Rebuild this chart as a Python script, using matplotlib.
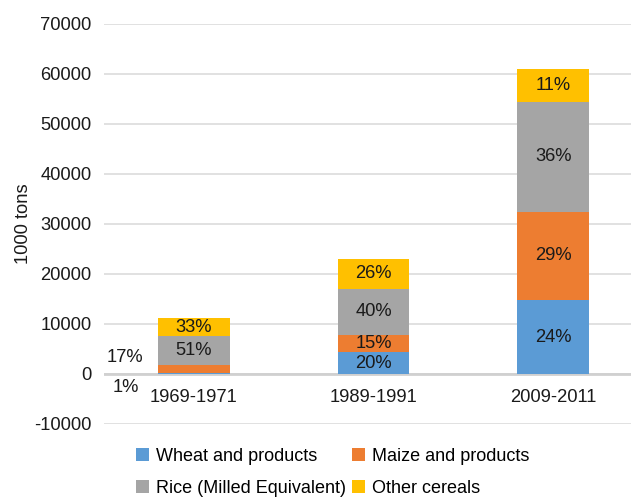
import numpy as np
import matplotlib.pyplot as plt
from matplotlib.patches import Patch

plt.rcParams['font.family'] = ['Liberation Sans', 'DejaVu Sans']

#%% Data (1000 tons)
periods = ["1969-1971", "1989-1991", "2009-2011"]
series = ["Wheat and products", "Maize and products", "Rice (Milled Equivalent)", "Other cereals"]
wheat = [110, 4340, 14740]
maize = [1600, 3400, 17720]
rice = [5800, 9320, 22000]
other = [3700, 5940, 6540]
shares = [["1%", "17%", "51%", "33%"],
          ["20%", "15%", "40%", "26%"],
          ["24%", "29%", "36%", "11%"]]
yticks = [-10000, 0, 10000, 20000, 30000, 40000, 50000, 60000, 70000]

colors = ["#5b9bd5", "#ed7d31", "#a5a5a5", "#ffc000"]
fs = 13.2

#%% Plot
fig = plt.figure(figsize=(6.31, 4.97), dpi=100)
ax = fig.add_axes([104/631, 73/497, 539/631, 400/497])

x = np.arange(len(periods))
bottom = np.zeros(len(periods))
stack = [wheat, maize, rice, other]
for k, vals in enumerate(stack):
    vals = np.array(vals, dtype=float)
    ax.bar(x, vals, 0.4, bottom=bottom, color=colors[k], zorder=3)
    for i in range(len(periods)):
        if i == 0 and k < 2:
            continue  # small segments labelled outside, left of bar
        ax.text(x[i], bottom[i] + vals[i] / 2, shares[i][k], ha="center", va="center",
                fontsize=fs, color="#1a1a1a", zorder=4)
    bottom += vals

# labels for thin segments of the first bar
ax.text(-0.385, 3260, shares[0][1], ha="center", va="center", fontsize=fs, color="#1a1a1a")
ax.text(-0.38, -2700, shares[0][0], ha="center", va="center", fontsize=fs, color="#1a1a1a")

# category labels
for i, p in enumerate(periods):
    ax.text(x[i], -4600, p, ha="center", va="center", fontsize=fs, color="#1a1a1a")

ax.set_xlim(-0.5, 2.5)
ax.set_ylim(-10000, 70000)
ax.set_yticks(yticks)
ax.set_yticklabels([str(t) for t in yticks], fontsize=fs, color="#1a1a1a")
ax.set_xticks([])
ax.tick_params(axis="y", length=0, pad=9)
ax.grid(axis="y", color="#dedede", linewidth=1.3, zorder=0)
ax.axhline(0, color="#d0d0d0", linewidth=2, zorder=2)
for s in ax.spines.values():
    s.set_visible(False)
ax.set_ylabel("1000 tons", fontsize=fs, color="#1a1a1a", labelpad=1.5)

# legend (row-major: Wheat, Maize / Rice, Other)
order = [0, 2, 1, 3]
handles = [Patch(facecolor=colors[k], label=series[k]) for k in order]
fig.legend(handles=handles, ncol=2, loc="center left", bbox_to_anchor=(120/631, 1 - 472.5/497),
           frameon=False, fontsize=13, handlelength=0.72, handleheight=0.72,
           handletextpad=0.4, columnspacing=0.3, labelspacing=0.85)

fig.savefig("out.png", dpi=100)
